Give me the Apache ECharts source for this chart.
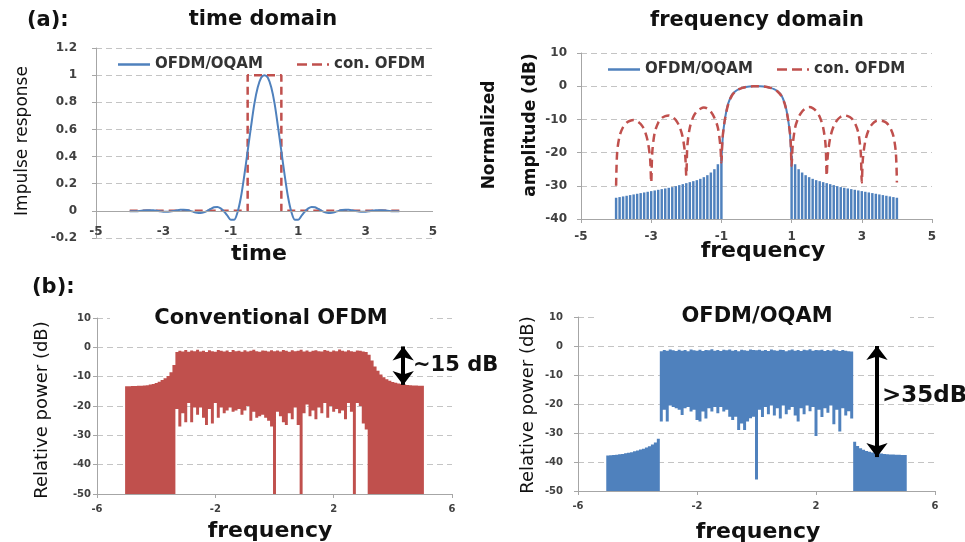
<!DOCTYPE html>
<html><head><meta charset="utf-8">
<script src="https://cdn.jsdelivr.net/npm/echarts@6/dist/echarts.min.js"></script>
<style>html,body{margin:0;padding:0;background:#fff}#c{width:965px;height:542px}</style>
</head><body><div id="c"></div>
<script>
// ---------- (a) time domain ----------
const timeT = [-4.0,-3.9,-3.8,-3.7,-3.6,-3.5,-3.4,-3.3,-3.2,-3.1,-3.0,-2.9,-2.8,-2.7,-2.6,-2.5,-2.4,-2.3,-2.2,-2.1,-2.0,-1.9,-1.8,-1.7,-1.6,-1.5,-1.4,-1.3,-1.2,-1.1,-1.0,-0.9,-0.8,-0.7,-0.6,-0.5,-0.4,-0.3,-0.2,-0.1,0.0,0.1,0.2,0.3,0.4,0.5,0.6,0.7,0.8,0.9,1.0,1.1,1.2,1.3,1.4,1.5,1.6,1.7,1.8,1.9,2.0,2.1,2.2,2.3,2.4,2.5,2.6,2.7,2.8,2.9,3.0,3.1,3.2,3.3,3.4,3.5,3.6,3.7,3.8,3.9,4.0];
const oqamPulse = [-0.002,-0.003,-0.003,-0.001,0.002,0.004,0.005,0.004,0.001,-0.003,
 -0.006,-0.007,-0.005,-0.001,0.004,0.008,0.009,0.006,0.000,-0.008,
 -0.014,-0.016,-0.011,0.000,0.014,0.026,0.028,0.018,-0.005,-0.035,
 -0.065,-0.065,-0.010,0.10,0.26,0.44,0.62,0.79,0.91,0.98,
 1.00,
 0.98,0.91,0.79,0.62,0.44,0.26,0.10,-0.010,-0.065,-0.065,
 -0.035,-0.005,0.018,0.028,0.026,0.014,0.000,-0.011,-0.016,-0.014,
 -0.008,0.000,0.006,0.009,0.008,0.004,-0.001,-0.005,-0.007,-0.006,
 -0.003,0.001,0.004,0.005,0.004,0.002,-0.001,-0.003,-0.003,-0.002];
const conT = [-4.0,-0.5,-0.5,0.5,0.5,4.0];
const conPulse = [0,0,1,1,0,0];

// ---------- (a) frequency domain ----------
const oqamMainF = [-1.0,-0.97,-0.95,-0.9,-0.85,-0.8,-0.7,-0.6,-0.5,-0.4,-0.3,-0.2,-0.1,0,0.1,0.2,0.3,0.4,0.5,0.6,0.7,0.8,0.85,0.9,0.95,0.97,1.0];
const oqamMainDb = [-22,-17,-14,-10,-7,-5,-2.6,-1.5,-0.9,-0.5,-0.25,-0.1,-0.02,0,-0.02,-0.1,-0.25,-0.5,-0.9,-1.5,-2.6,-5,-7,-10,-14,-17,-22];
const combF = [-4.0,-3.9,-3.8,-3.7,-3.6,-3.5,-3.4,-3.3,-3.2,-3.1,-3.0,-2.9,-2.8,-2.7,-2.6,-2.5,-2.4,-2.3,-2.2,-2.1,-2.0,-1.9,-1.8,-1.7,-1.6,-1.5,-1.4,-1.3,-1.2,-1.1,-1.0,
 1.0,1.1,1.2,1.3,1.4,1.5,1.6,1.7,1.8,1.9,2.0,2.1,2.2,2.3,2.4,2.5,2.6,2.7,2.8,2.9,3.0,3.1,3.2,3.3,3.4,3.5,3.6,3.7,3.8,3.9,4.0];
const combDb = [-33.6,-33.4,-33.2,-33.0,-32.8,-32.6,-32.4,-32.2,-32.0,-31.8,-31.6,-31.4,-31.2,-31.0,-30.8,-30.6,-30.4,-30.1,-29.8,-29.5,-29.2,-28.9,-28.6,-28.3,-27.9,-27.4,-26.8,-26.0,-25.0,-23.5,-21.0,
 -21.0,-23.5,-25.0,-26.0,-26.8,-27.4,-27.9,-28.3,-28.6,-28.9,-29.2,-29.5,-29.8,-30.1,-30.4,-30.6,-30.8,-31.0,-31.2,-31.4,-31.6,-31.8,-32.0,-32.2,-32.4,-32.6,-32.8,-33.0,-33.2,-33.4,-33.6];
const combFloor = -40;
const conF = [-4.0,-3.97,-3.9,-3.8,-3.7,-3.6,-3.5,-3.4,-3.3,-3.2,-3.1,-3.03,-3.0,
 -2.97,-2.9,-2.8,-2.7,-2.6,-2.5,-2.4,-2.3,-2.2,-2.1,-2.03,-2.0,
 -1.97,-1.9,-1.8,-1.7,-1.6,-1.5,-1.4,-1.3,-1.2,-1.1,-1.03,-1.0,
 -0.97,-0.9,-0.8,-0.7,-0.6,-0.5,-0.4,-0.3,-0.2,-0.1,0,
 0.1,0.2,0.3,0.4,0.5,0.6,0.7,0.8,0.9,0.97,1.0,
 1.03,1.1,1.2,1.3,1.4,1.5,1.6,1.7,1.8,1.9,1.97,2.0,
 2.03,2.1,2.2,2.3,2.4,2.5,2.6,2.7,2.8,2.9,2.97,3.0,
 3.03,3.1,3.2,3.3,3.4,3.5,3.6,3.7,3.8,3.9,3.97,4.0];
const conDb = [-30,-20,-15,-12.3,-11,-10.4,-10.2,-10.5,-11.4,-13,-16.5,-22,-29,
 -20,-14,-11,-9.6,-9,-8.8,-9.2,-10.2,-12,-15.5,-21,-27,
 -18,-12.5,-9.2,-7.6,-6.8,-6.4,-6.7,-7.7,-9.5,-12.5,-18,-23,
 -16,-10,-5.2,-2.8,-1.6,-0.9,-0.5,-0.25,-0.1,-0.02,0,
 -0.02,-0.1,-0.25,-0.5,-0.9,-1.6,-2.8,-5.2,-10,-16,-24,
 -18,-12.5,-9.3,-7.6,-6.7,-6.3,-6.6,-7.5,-9.2,-12.5,-18,-27,
 -21,-15.5,-12,-10.2,-9.2,-8.8,-9,-9.6,-11,-14,-20,-29,
 -22,-16.5,-13,-11.4,-10.5,-10.3,-10.5,-11,-12.3,-15,-20,-29];

// ---------- (b) measured spectra ----------
const specF = [-5.0,-4.9,-4.8,-4.7,-4.6,-4.5,-4.4,-4.3,-4.2,-4.1,-4.0,-3.9,-3.8,-3.7,-3.6,-3.5,-3.4,-3.3,-3.2,-3.1,
 -3.0,-2.9,-2.8,-2.7,-2.6,-2.5,-2.4,-2.3,-2.2,-2.1,-2.0,-1.9,-1.8,-1.7,-1.6,-1.5,-1.4,-1.3,-1.2,-1.1,
 -1.0,-0.9,-0.8,-0.7,-0.6,-0.5,-0.4,-0.3,-0.2,-0.1,0.0,0.1,0.2,0.3,0.4,0.5,0.6,0.7,0.8,0.9,
 1.0,1.1,1.2,1.3,1.4,1.5,1.6,1.7,1.8,1.9,2.0,2.1,2.2,2.3,2.4,2.5,2.6,2.7,2.8,2.9,
 3.0,3.1,3.2,3.3,3.4,3.5,3.6,3.7,3.8,3.9,4.0,4.1,4.2,4.3,4.4,4.5,4.6,4.7,4.8,4.9,5.0];
const convHigh = [-13.3,-13.3,-13.2,-13.2,-13.1,-13.1,-13.0,-12.9,-12.7,-12.5,-12.2,-11.7,-11.1,-10.5,-9.8,-8.5,-6.0,
 -1.6,-1.2,-1.4,-0.9,-1.5,-1.1,-1.3,-0.8,-1.4,-1.2,-1.6,-1.0,-1.3,-1.5,-0.9,-1.2,-1.4,-1.1,-1.6,-0.9,-1.3,-1.2,-1.5,-1.0,-1.4,-1.2,-0.8,-1.3,-1.5,-1.1,-1.2,-1.4,-1.0,
 -1.3,
 -1.1,-1.4,-0.9,-1.2,-1.5,-1.0,-1.3,-1.2,-0.8,-1.4,-1.1,-1.5,-1.2,-1.0,-1.3,-1.4,-0.9,-1.2,-1.5,-1.1,-1.3,-0.7,-1.2,-1.4,-1.0,-1.3,-1.5,-1.1,-1.2,-1.4,-1.6,
 -2.5,-4.5,-6.5,-8.0,-9.3,-10.2,-10.9,-11.4,-11.8,-12.1,-12.3,-12.5,-12.7,-12.8,-12.9,-13.0,-13.0,-13.1,-13.1];
const convLow = [-50,-50,-50,-50,-50,-50,-50,-50,-50,-50,-50,-50,-50,-50,-50,-50,-50,
 -21,-27,-22.5,-25.5,-19,-25.5,-20.5,-23,-20.5,-24,-26.5,-21,-26,-19,-24,-20.5,-22.5,-21.5,-20.5,-22,-21.5,-21,-23,-21.5,-20,-25,-22,-24,-23.5,-23,-24,-25,-27,
 -50,
 -22,-23.5,-25.5,-26.5,-22.5,-24.5,-20.5,-26.5,-50,-22.5,-19.5,-23.5,-21.5,-24.5,-20.5,-22.5,-19,-24,-20,-22,-21,-22.5,-21.5,-24.5,-19,-22,-50,-19,-20,-26,-28,
 -50,-50,-50,-50,-50,-50,-50,-50,-50,-50,-50,-50,-50,-50,-50,-50,-50,-50,-50];
const oqamHigh = [-37.8,-37.7,-37.6,-37.5,-37.3,-37.2,-37.0,-36.8,-36.6,-36.3,-36.0,-35.7,-35.4,-35.0,-34.6,-34.0,-33.3,-32.0,
 -1.8,-1.4,-1.6,-1.2,-1.5,-1.7,-1.3,-1.6,-1.4,-1.8,-1.2,-1.5,-1.6,-1.3,-1.7,-1.4,-1.5,-1.1,-1.6,-1.4,-1.7,-1.3,-1.5,-1.2,-1.6,-1.4,-1.8,-1.3,-1.5,-1.6,-1.2,-1.4,
 -1.5,
 -1.3,-1.6,-1.4,-1.7,-1.2,-1.5,-1.6,-1.3,-1.4,-1.8,-1.5,-1.2,-1.6,-1.4,-1.7,-1.3,-1.5,-1.1,-1.6,-1.4,-1.5,-1.3,-1.7,-1.4,-1.6,-1.2,-1.5,-1.7,-1.4,-1.6,-1.8,-1.9,
 -33.0,-34.5,-35.3,-35.8,-36.2,-36.5,-36.7,-36.9,-37.0,-37.1,-37.2,-37.3,-37.4,-37.4,-37.5,-37.5,-37.6,-37.6];
const oqamLow = [-50,-50,-50,-50,-50,-50,-50,-50,-50,-50,-50,-50,-50,-50,-50,-50,-50,-50,
 -26,-22,-26,-20.5,-21,-21.5,-22,-23.8,-21.5,-21,-22.6,-22,-25.5,-26,-22.6,-25,-21.5,-22.6,-21,-23.2,-21,-22.6,-22,-24.4,-25.5,-24.4,-29,-26.7,-29,-26,-24.9,-24.4,
 -46,
 -22,-24.5,-21,-23.5,-20.5,-24,-21.5,-25,-20.5,-23.5,-22,-21,-24,-26,-21.5,-23.5,-20.5,-22.5,-21,-31,-22,-24.5,-21.5,-23,-20.5,-27,-22,-29.5,-21.5,-24,-22.5,-25,
 -50,-50,-50,-50,-50,-50,-50,-50,-50,-50,-50,-50,-50,-50,-50,-50,-50,-50];

// annotation arrows (data coordinates: [x, yTop, yBottom])
const arrowConv = [4.35, 0.3, -12.8];
const arrowOqam = [4.05, 0.0, -38.3];

const BLUE = '#4F81BD', RED = '#C0504D';
const FONT = '"DejaVu Sans", sans-serif';
const zip = (a, b) => a.map((v, i) => [v, b[i]]);
const zip3 = (a, b, c) => a.map((v, i) => [v, b[i], c[i]]);

// separate thin teeth (side-lobe comb)
function teeth(name, gi, data, color, w) {
  return {
    type: 'custom', name, xAxisIndex: gi, yAxisIndex: gi, silent: true, clip: true,
    data, encode: { x: 0, y: [1, 2] },
    renderItem: (params, api) => {
      const x = api.value(0);
      const a = api.coord([x - w / 2, api.value(1)]);
      const b = api.coord([x + w / 2, api.value(2)]);
      return { type: 'rect', shape: { x: a[0], y: a[1], width: b[0] - a[0], height: b[1] - a[1] },
        style: { fill: color } };
    }
  };
}
// continuous spectrum band: one stepped polygon between high and low traces
function band(name, gi, data, color, w) {
  return {
    type: 'custom', name, xAxisIndex: gi, yAxisIndex: gi, silent: true, clip: true,
    data, encode: { x: 0, y: [1, 2] },
    renderItem: (params, api) => {
      if (params.dataIndex !== 0) return null;
      const pts = [];
      for (let i = 0; i < data.length; i++) {
        pts.push(api.coord([data[i][0] - w / 2, data[i][1]]));
        pts.push(api.coord([data[i][0] + w / 2, data[i][1]]));
      }
      for (let i = data.length - 1; i >= 0; i--) {
        pts.push(api.coord([data[i][0] + w / 2, data[i][2]]));
        pts.push(api.coord([data[i][0] - w / 2, data[i][2]]));
      }
      return { type: 'polygon', shape: { points: pts }, style: { fill: color } };
    }
  };
}

const gridLine = { show: true, lineStyle: { color: '#c4c4c4', width: 1, type: [6, 4] } };
const axisLineStyle = { color: '#a6a6a6', width: 1 };
function xAx(gi, min, max, interval, labelSize, margin, showLine) {
  return { type: 'value', gridIndex: gi, min, max, interval,
    axisLine: { show: showLine, onZero: false, lineStyle: axisLineStyle },
    axisTick: { show: showLine, length: 4, lineStyle: axisLineStyle },
    splitLine: { show: false },
    axisLabel: { margin, fontSize: labelSize, fontWeight: 'bold', color: '#404040', fontFamily: FONT } };
}
function yAx(gi, min, max, interval, labelSize, margin) {
  return { type: 'value', gridIndex: gi, min, max, interval,
    axisLine: { show: true, onZero: false, lineStyle: axisLineStyle },
    axisTick: { show: true, length: 4, lineStyle: axisLineStyle },
    splitLine: gridLine,
    axisLabel: { margin, fontSize: labelSize, fontWeight: 'bold', color: '#404040', fontFamily: FONT } };
}
function arrowLine(gi, arr) {
  return { type: 'line', xAxisIndex: gi, yAxisIndex: gi, data: [], silent: true,
    markLine: { silent: true, symbol: ['arrow', 'arrow'], symbolSize: [16, 14], animation: false,
      label: { show: false }, lineStyle: { color: '#000', width: 4, type: 'solid' },
      data: [[{ coord: [arr[0], arr[1]] }, { coord: [arr[0], arr[2]] }]] } };
}
function txt(text, x, y, size, weight, opts) {
  return Object.assign({ type: 'text', x, y, z: 100, silent: true,
    style: Object.assign({ text, font: `${weight} ${size}px ${FONT}`, fill: '#111',
      textAlign: 'center', textVerticalAlign: 'middle' }, (opts && opts.style) || {}) },
    (opts && opts.el) || {});
}
function whiteBox(x, y, w, h) {
  return { type: 'rect', z: 99, silent: true, shape: { x, y, width: w, height: h }, style: { fill: '#fff' } };
}
const legendText = { fontFamily: FONT, fontWeight: 'bold', fontSize: 15, color: '#333' };
const ICON_SOLID = 'path://M0,0H32V2.5H0Z';
const ICON_DASH = 'path://M0,0H10V2.5H0ZM15,0H25V2.5H15ZM30,0H32V2.5H30Z';
function leg(name, left, top, icon) {
  return { data: [{ name, icon }], left, top, itemWidth: 32, itemHeight: 2.5, itemGap: 0, padding: 0,
    textStyle: legendText, selectedMode: false };
}

const option = {
  animation: false,
  backgroundColor: '#fff',
  grid: [
    { left: 96, top: 48, width: 337, height: 190, outerBoundsMode: 'none' },
    { left: 581, top: 53, width: 351, height: 166, outerBoundsMode: 'none' },
    { left: 97, top: 318, width: 355, height: 176, outerBoundsMode: 'none' },
    { left: 578, top: 317, width: 357, height: 174, outerBoundsMode: 'none' }
  ],
  xAxis: [
    xAx(0, -5, 5, 2, 12, -12, false),
    xAx(1, -5, 5, 2, 12, 12, true),
    xAx(2, -6, 6, 4, 10, 10, true),
    xAx(3, -6, 6, 4, 10, 10, true)
  ],
  yAxis: [
    yAx(0, -0.2, 1.2, 0.2, 12, 19),
    yAx(1, -40, 10, 10, 12, 14),
    yAx(2, -50, 10, 10, 10, 6),
    yAx(3, -50, 10, 10, 10, 15)
  ],
  legend: [
    leg('OFDM/OQAM', 118, 57, ICON_SOLID), leg('con. OFDM', 297, 57, ICON_DASH),
    leg('OFDM/OQAM', 608, 62, ICON_SOLID), leg('con. OFDM', 777, 62, ICON_DASH)
  ],
  series: [
    { type: 'line', name: 'con. OFDM', xAxisIndex: 0, yAxisIndex: 0, symbol: 'none',
      data: zip(conT, conPulse), lineStyle: { color: RED, width: 2.5, type: [8, 5] }, itemStyle: { color: RED } },
    { type: 'line', name: 'OFDM/OQAM', xAxisIndex: 0, yAxisIndex: 0, symbol: 'none', smooth: 0.3,
      data: zip(timeT, oqamPulse), lineStyle: { color: BLUE, width: 2 }, itemStyle: { color: BLUE },
      markLine: { silent: true, symbol: 'none', label: { show: false }, animation: false,
        lineStyle: { color: '#a6a6a6', width: 1, type: 'solid' }, data: [{ yAxis: 0 }] } },
    teeth('OFDM/OQAM sidelobes', 1, zip3(combF, combDb, combF.map(() => combFloor)), BLUE, 0.07),
    { type: 'line', name: 'OFDM/OQAM', xAxisIndex: 1, yAxisIndex: 1, symbol: 'none', smooth: 0.3,
      data: zip(oqamMainF, oqamMainDb), lineStyle: { color: BLUE, width: 2 }, itemStyle: { color: BLUE } },
    { type: 'line', name: 'con. OFDM', xAxisIndex: 1, yAxisIndex: 1, symbol: 'none', smooth: 0.3,
      data: zip(conF, conDb), lineStyle: { color: RED, width: 2.5, type: [8, 5] }, itemStyle: { color: RED } },
    band('Conventional OFDM spectrum', 2, zip3(specF, convHigh, convLow), RED, 0.1),
    band('OFDM/OQAM spectrum', 3, zip3(specF, oqamHigh, oqamLow), BLUE, 0.1),
    arrowLine(2, arrowConv),
    arrowLine(3, arrowOqam)
  ],
  graphic: [
    whiteBox(110, 308, 320, 22),
    whiteBox(595, 306, 315, 22),
    txt('(a):', 27, 21, 21, 'bold', { style: { textAlign: 'left' } }),
    txt('time domain', 263, 20, 21, 'bold'),
    txt('frequency domain', 757, 21, 21, 'bold'),
    txt('time', 259, 254, 22, 'bold'),
    txt('frequency', 763, 251, 22, 'bold'),
    txt('Impulse response', 23, 141, 17, 'normal', { el: { rotation: Math.PI / 2 } }),
    txt('Normalized', 490, 135, 17, 'bold', { el: { rotation: Math.PI / 2 } }),
    txt('amplitude (dB)', 531, 125, 17, 'bold', { el: { rotation: Math.PI / 2 } }),
    txt('(b):', 32, 288, 21, 'bold', { style: { textAlign: 'left' } }),
    txt('Conventional OFDM', 271, 319, 21, 'bold'),
    txt('OFDM/OQAM', 757, 317, 21, 'bold'),
    txt('Relative power (dB)', 42, 410, 18, 'normal', { el: { rotation: Math.PI / 2 } }),
    txt('Relative power (dB)', 528, 405, 18, 'normal', { el: { rotation: Math.PI / 2 } }),
    txt('frequency', 270, 531, 22, 'bold'),
    txt('frequency', 758, 532, 22, 'bold'),
    txt('~15 dB', 413, 366, 21, 'bold', { style: { textAlign: 'left' } }),
    txt('>35dB', 882, 396, 23, 'bold', { style: { textAlign: 'left' } })
  ]
};
echarts.init(document.getElementById('c'), null, { renderer: 'canvas' }).setOption(option);
</script></body></html>
